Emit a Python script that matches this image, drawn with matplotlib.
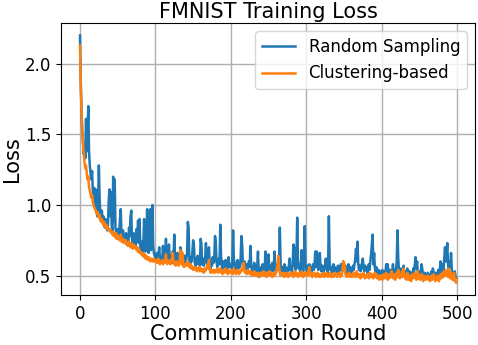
import matplotlib
matplotlib.use("Agg")
import matplotlib.pyplot as plt
import numpy as np

# loss per communication round
random_loss = [
    2.20, 1.88, 1.66, 1.52, 1.44, 1.36, 1.42, 1.33, 1.61, 1.38, 1.50, 1.70, 1.37, 1.28, 1.22, 1.18, 1.24, 1.10, 1.06, 1.12,
    0.98, 1.11, 0.95, 0.92, 1.00, 1.28, 1.05, 0.93, 0.90, 0.96, 0.88, 0.92, 0.86, 0.84, 0.90, 0.87, 0.82, 0.85, 1.02, 1.11,
    0.92, 1.09, 0.86, 0.80, 1.20, 0.88, 1.18, 0.84, 0.80, 0.78, 0.83, 0.76, 0.80, 0.90, 0.97, 0.79, 0.76, 0.82, 0.74, 0.78,
    0.74, 0.80, 0.72, 0.76, 0.71, 0.84, 0.78, 0.92, 0.96, 0.75, 0.72, 0.80, 0.70, 0.74, 0.71, 0.83, 0.76, 0.89, 0.73, 0.90,
    0.70, 0.68, 0.74, 0.66, 0.72, 0.90, 0.69, 0.67, 0.75, 0.97, 0.70, 0.66, 0.72, 0.97, 0.68, 0.74, 1.00, 0.71, 0.66, 0.64,
    0.63, 0.61, 0.66, 0.60, 0.64, 0.70, 0.62, 0.59, 0.63, 0.61, 0.71, 0.62, 0.60, 0.65, 0.76, 0.61, 0.59, 0.63, 0.72, 0.62,
    0.60, 0.64, 0.59, 0.67, 0.62, 0.79, 0.63, 0.58, 0.61, 0.66, 0.60, 0.62, 0.59, 0.70, 0.68, 0.61, 0.63, 0.58, 0.60, 0.64,
    0.59, 0.62, 0.66, 0.88, 0.84, 0.61, 0.58, 0.63, 0.60, 0.66, 0.75, 0.72, 0.60, 0.57, 0.62, 0.58, 0.64, 0.59, 0.61, 0.57,
    0.76, 0.72, 0.58, 0.62, 0.57, 0.60, 0.63, 0.73, 0.59, 0.56, 0.62, 0.70, 0.58, 0.55, 0.60, 0.57, 0.63, 0.59, 0.61, 0.78,
    0.74, 0.60, 0.56, 0.59, 0.62, 0.58, 0.86, 0.64, 0.57, 0.55, 0.60, 0.58, 0.56, 0.61, 0.57, 0.54, 0.59, 0.63, 0.56, 0.58,
    0.57, 0.55, 0.60, 0.82, 0.62, 0.56, 0.54, 0.59, 0.57, 0.61, 0.55, 0.58, 0.56, 0.62, 0.78, 0.72, 0.58, 0.55, 0.60, 0.57,
    0.55, 0.58, 0.54, 0.57, 0.60, 0.56, 0.71, 0.58, 0.54, 0.56, 0.53, 0.59, 0.55, 0.57, 0.52, 0.56, 0.67, 0.49, 0.55, 0.53,
    0.56, 0.53, 0.58, 0.55, 0.52, 0.57, 0.67, 0.56, 0.53, 0.58, 0.65, 0.55, 0.52, 0.57, 0.54, 0.59, 0.53, 0.56, 0.67, 0.55,
    0.53, 0.57, 0.54, 0.60, 0.62, 0.84, 0.58, 0.53, 0.56, 0.52, 0.55, 0.58, 0.53, 0.56, 0.51, 0.55, 0.53, 0.57, 0.62, 0.54,
    0.56, 0.53, 0.58, 0.72, 0.70, 0.57, 0.54, 0.60, 0.91, 0.62, 0.55, 0.58, 0.53, 0.57, 0.68, 0.56, 0.53, 0.59, 0.85, 0.58,
    0.55, 0.52, 0.57, 0.54, 0.58, 0.53, 0.56, 0.52, 0.55, 0.58, 0.54, 0.57, 0.67, 0.56, 0.67, 0.58, 0.54, 0.57, 0.66, 0.56,
    0.53, 0.57, 0.54, 0.52, 0.56, 0.58, 0.62, 0.55, 0.52, 0.57, 0.92, 0.60, 0.54, 0.56, 0.52, 0.55, 0.58, 0.53, 0.56, 0.52,
    0.55, 0.53, 0.57, 0.52, 0.56, 0.54, 0.58, 0.53, 0.55, 0.60, 0.56, 0.53, 0.57, 0.52, 0.55, 0.53, 0.58, 0.54, 0.56, 0.52,
    0.55, 0.53, 0.57, 0.54, 0.58, 0.62, 0.69, 0.60, 0.74, 0.58, 0.54, 0.57, 0.53, 0.56, 0.59, 0.62, 0.55, 0.53, 0.57, 0.54,
    0.56, 0.52, 0.55, 0.58, 0.54, 0.60, 0.65, 0.72, 0.79, 0.58, 0.66, 0.55, 0.52, 0.56, 0.53, 0.50, 0.54, 0.52, 0.49, 0.53,
    0.51, 0.54, 0.50, 0.53, 0.49, 0.52, 0.58, 0.51, 0.58, 0.53, 0.50, 0.54, 0.52, 0.49, 0.53, 0.58, 0.51, 0.54, 0.50, 0.53,
    0.60, 0.82, 0.62, 0.53, 0.50, 0.55, 0.52, 0.49, 0.54, 0.57, 0.51, 0.53, 0.49, 0.52, 0.55, 0.50, 0.48, 0.53, 0.51, 0.49,
    0.52, 0.50, 0.55, 0.53, 0.58, 0.63, 0.55, 0.60, 0.51, 0.49, 0.53, 0.50, 0.52, 0.58, 0.54, 0.50, 0.48, 0.52, 0.49, 0.51,
    0.48, 0.52, 0.50, 0.47, 0.51, 0.49, 0.53, 0.50, 0.55, 0.51, 0.48, 0.52, 0.49, 0.47, 0.51, 0.54, 0.50, 0.53, 0.60, 0.52,
    0.55, 0.58, 0.54, 0.62, 0.70, 0.60, 0.65, 0.73, 0.58, 0.55, 0.60, 0.56, 0.66, 0.54, 0.50, 0.52, 0.47, 0.53, 0.49, 0.48,
]

cluster_loss = [
    2.13, 1.85, 1.66, 1.53, 1.44, 1.36, 1.30, 1.26, 1.28, 1.22, 1.18, 1.20, 1.13, 1.10, 1.08, 1.05, 1.07, 1.02, 1.00, 0.98,
    0.97, 0.96, 0.94, 0.95, 0.92, 0.91, 0.93, 0.89, 0.88, 0.90, 0.87, 0.86, 0.88, 0.85, 0.84, 0.86, 0.83, 0.84, 0.82, 0.83,
    0.81, 0.82, 0.80, 0.79, 0.81, 0.78, 0.79, 0.77, 0.80, 0.76, 0.77, 0.78, 0.75, 0.76, 0.79, 0.74, 0.75, 0.76, 0.73, 0.75,
    0.74, 0.75, 0.72, 0.73, 0.71, 0.74, 0.72, 0.70, 0.73, 0.71, 0.69, 0.72, 0.70, 0.71, 0.70, 0.68, 0.70, 0.67, 0.69, 0.66,
    0.67, 0.65, 0.66, 0.64, 0.66, 0.63, 0.65, 0.62, 0.64, 0.63, 0.61, 0.63, 0.62, 0.60, 0.62, 0.61, 0.60, 0.62, 0.60, 0.61,
    0.60, 0.61, 0.59, 0.60, 0.62, 0.59, 0.58, 0.60, 0.59, 0.61, 0.58, 0.60, 0.59, 0.62, 0.65, 0.59, 0.58, 0.60, 0.59, 0.61,
    0.58, 0.60, 0.62, 0.66, 0.60, 0.58, 0.59, 0.57, 0.60, 0.58, 0.59, 0.57, 0.60, 0.68, 0.61, 0.58, 0.66, 0.57, 0.56, 0.58,
    0.57, 0.58, 0.60, 0.57, 0.59, 0.56, 0.58, 0.55, 0.57, 0.56, 0.54, 0.56, 0.55, 0.54, 0.56, 0.53, 0.55, 0.54, 0.56, 0.53,
    0.54, 0.55, 0.53, 0.54, 0.52, 0.55, 0.53, 0.54, 0.56, 0.58, 0.55, 0.61, 0.54, 0.52, 0.54, 0.53, 0.52, 0.54, 0.53, 0.52,
    0.54, 0.53, 0.55, 0.52, 0.54, 0.53, 0.55, 0.52, 0.53, 0.51, 0.54, 0.52, 0.53, 0.55, 0.52, 0.53, 0.51, 0.54, 0.52, 0.53,
    0.52, 0.54, 0.53, 0.51, 0.55, 0.52, 0.53, 0.51, 0.54, 0.52, 0.53, 0.51, 0.52, 0.54, 0.53, 0.55, 0.56, 0.59, 0.53, 0.52,
    0.53, 0.51, 0.52, 0.54, 0.52, 0.51, 0.53, 0.52, 0.50, 0.52, 0.51, 0.53, 0.50, 0.52, 0.51, 0.50, 0.52, 0.51, 0.49, 0.51,
    0.52, 0.50, 0.51, 0.53, 0.50, 0.52, 0.51, 0.49, 0.52, 0.50, 0.51, 0.53, 0.50, 0.52, 0.51, 0.49, 0.51, 0.52, 0.50, 0.51,
    0.52, 0.55, 0.58, 0.64, 0.56, 0.52, 0.50, 0.52, 0.51, 0.50, 0.52, 0.49, 0.51, 0.50, 0.52, 0.50, 0.49, 0.51, 0.50, 0.52,
    0.51, 0.50, 0.52, 0.49, 0.51, 0.53, 0.50, 0.52, 0.51, 0.49, 0.50, 0.52, 0.51, 0.50, 0.53, 0.50, 0.49, 0.51, 0.52, 0.50,
    0.51, 0.52, 0.50, 0.53, 0.56, 0.51, 0.50, 0.52, 0.49, 0.51, 0.50, 0.52, 0.51, 0.49, 0.50, 0.52, 0.50, 0.49, 0.51, 0.50,
    0.49, 0.51, 0.50, 0.52, 0.49, 0.51, 0.50, 0.52, 0.50, 0.49, 0.51, 0.50, 0.52, 0.49, 0.51, 0.50, 0.49, 0.51, 0.50, 0.52,
    0.50, 0.49, 0.51, 0.50, 0.52, 0.49, 0.51, 0.50, 0.53, 0.60, 0.55, 0.58, 0.51, 0.50, 0.49, 0.51, 0.50, 0.52, 0.49, 0.50,
    0.51, 0.49, 0.50, 0.52, 0.50, 0.49, 0.51, 0.53, 0.50, 0.49, 0.51, 0.50, 0.48, 0.51, 0.50, 0.49, 0.52, 0.50, 0.48, 0.50,
    0.49, 0.51, 0.50, 0.48, 0.52, 0.50, 0.49, 0.51, 0.50, 0.48, 0.50, 0.52, 0.49, 0.51, 0.48, 0.50, 0.49, 0.47, 0.50, 0.49,
    0.50, 0.47, 0.49, 0.51, 0.48, 0.50, 0.52, 0.49, 0.47, 0.50, 0.48, 0.51, 0.49, 0.53, 0.50, 0.48, 0.51, 0.49, 0.47, 0.50,
    0.52, 0.49, 0.54, 0.50, 0.48, 0.51, 0.49, 0.53, 0.50, 0.55, 0.51, 0.48, 0.50, 0.47, 0.52, 0.49, 0.47, 0.50, 0.48, 0.46,
    0.49, 0.51, 0.48, 0.50, 0.52, 0.49, 0.47, 0.50, 0.53, 0.48, 0.50, 0.47, 0.49, 0.51, 0.48, 0.46, 0.50, 0.48, 0.47, 0.49,
    0.48, 0.50, 0.47, 0.49, 0.46, 0.48, 0.50, 0.47, 0.49, 0.51, 0.48, 0.46, 0.49, 0.47, 0.50, 0.48, 0.46, 0.49, 0.51, 0.48,
    0.50, 0.52, 0.49, 0.53, 0.51, 0.54, 0.50, 0.52, 0.49, 0.55, 0.51, 0.48, 0.52, 0.50, 0.47, 0.49, 0.52, 0.46, 0.48, 0.45,
]

rounds = np.arange(len(random_loss))

fig = plt.figure(figsize=(4.78, 3.45), dpi=100)
ax = fig.add_axes([0.128, 0.145, 0.866, 0.788])

ax.plot(rounds, random_loss, color='tab:blue', lw=1.8, label='Random Sampling')
ax.plot(rounds, cluster_loss, color='tab:orange', lw=1.8, label='Clustering-based')

ax.set_title('FMNIST Training Loss', fontsize=15, pad=4)
ax.set_xlabel('Communication Round', fontsize=15, labelpad=1)
ax.set_ylabel('Loss', fontsize=15, labelpad=2)
ax.set_xticks([0, 100, 200, 300, 400, 500])
ax.set_yticks([0.5, 1.0, 1.5, 2.0])
ax.tick_params(labelsize=12)
ax.grid(True, color='#b0b0b0', lw=1.0)
ax.legend(loc='upper right', fontsize=12)

fig.savefig('out.png', dpi=100)
